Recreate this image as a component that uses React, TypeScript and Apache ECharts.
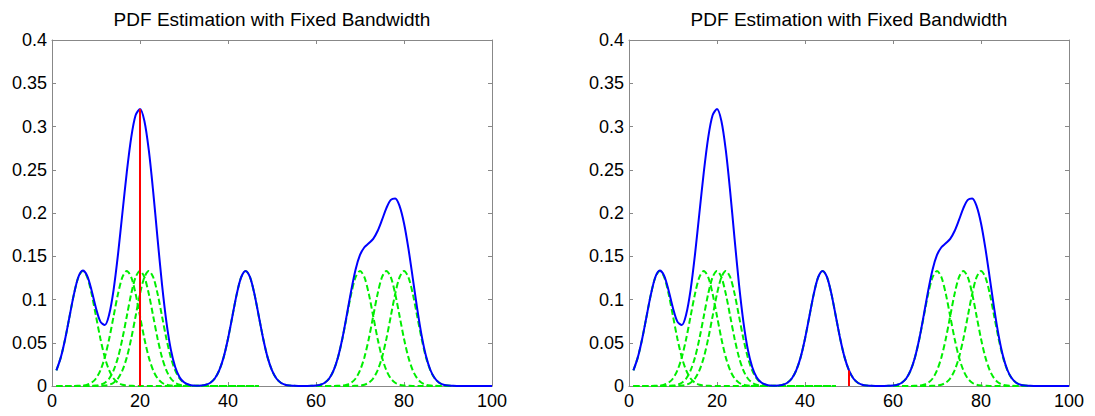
import React, { useEffect, useRef } from "react";
import * as echarts from "echarts";

// ---- data ----
const titleText = "PDF Estimation with Fixed Bandwidth";
const xStart = 1;
// blue estimated PDF, one value per x = 1..100
const pdfValues = [
  0.018, 0.0331, 0.0547, 0.0807, 0.1065, 0.126, 0.1335, 0.1273, 0.1105, 0.0899,
  0.0744, 0.0705, 0.0829, 0.1112, 0.1521, 0.2, 0.2473, 0.2872, 0.313, 0.3202,
  0.3063, 0.2726, 0.2245, 0.1699, 0.1176, 0.0742, 0.0423, 0.022, 0.0102, 0.0043,
  0.0017, 0.0005, 0.0004, 0.0005, 0.0015, 0.0038, 0.0087, 0.018, 0.0331, 0.0547,
  0.0807, 0.1065, 0.1258, 0.133, 0.1258, 0.1065, 0.0807, 0.0547, 0.0331, 0.018,
  0.0087, 0.0038, 0.0015, 0.0005, 0.0002, 0, 0, 0, 0.0002, 0.0005,
  0.0015, 0.0038, 0.0087, 0.018, 0.0333, 0.0552, 0.0822, 0.1103, 0.1347, 0.1515,
  0.1604, 0.165, 0.1701, 0.1792, 0.192, 0.2057, 0.2152, 0.2168, 0.208, 0.1882,
  0.1591, 0.1245, 0.0894, 0.0585, 0.0346, 0.0185, 0.0089, 0.0038, 0.0015, 0.0005,
  0.0002, 0, 0, 0, 0, 0, 0, 0, 0, 0,
];
// green kernel height by distance from its centre (0..12)
const kernelProfile = [0.133, 0.1258, 0.1065, 0.0807, 0.0547, 0.0331, 0.018, 0.0087, 0.0038, 0.0015, 0.0005, 0.0002, 0];
const sampleCenters = [7, 17, 20, 22, 44, 70, 76, 80];
const kernelSpans = [
  [1, 47], [1, 47], [1, 47], [1, 47], [32, 56], [58, 100], [58, 100], [58, 100],
];
const probeX = [20, 50];
const xMin = 0, xMax = 100, xInterval = 20;
const yMin = 0, yMax = 0.4, yInterval = 0.05;

const FONT = "'Liberation Sans', Arial, sans-serif";
const AXIS_GRAY = "#888888";
const gridLefts = [52, 629];
const GRID_TOP = 40;
const GRID_W = 440;
const GRID_H = 346;

function pdfAt(x: number): number {
  return pdfValues[x - xStart] ?? 0;
}

function kernelData(center: number, span: number[]): number[][] {
  const out: number[][] = [];
  for (let x = span[0]; x <= span[1]; x++) {
    const d = Math.min(Math.abs(x - center), kernelProfile.length - 1);
    out.push([x, kernelProfile[d]]);
  }
  return out;
}

function buildOption() {
  const grids: any[] = [];
  const xAxes: any[] = [];
  const yAxes: any[] = [];
  const series: any[] = [];
  const graphics: any[] = [];

  gridLefts.forEach((left, gi) => {
    grids.push({ left, top: GRID_TOP, width: GRID_W, height: GRID_H, show: false });
    const lineStyle = { color: AXIS_GRAY, width: 1 };
    const baseX = {
      gridIndex: gi, type: "value", min: xMin, max: xMax, interval: xInterval,
      axisLine: { show: true, onZero: false, lineStyle },
      axisTick: { show: true, inside: true, length: 4, lineStyle },
      splitLine: { show: false },
    };
    xAxes.push({
      ...baseX, position: "bottom",
      axisLabel: { show: true, color: "#000", fontSize: 18, fontFamily: FONT, margin: 6 },
    });
    xAxes.push({ ...baseX, position: "top", axisLabel: { show: false } });
    const baseY = {
      gridIndex: gi, type: "value", min: yMin, max: yMax, interval: yInterval,
      axisLine: { show: true, onZero: false, lineStyle },
      axisTick: { show: true, inside: true, length: 4, lineStyle },
      splitLine: { show: false },
    };
    yAxes.push({
      ...baseY, position: "left",
      axisLabel: { show: true, color: "#000", fontSize: 18, fontFamily: FONT, margin: 5 },
    });
    yAxes.push({ ...baseY, position: "right", axisLabel: { show: false } });

    const xi = gi * 2;
    const yi = gi * 2;
    sampleCenters.forEach((c, k) => {
      series.push({
        type: "line", xAxisIndex: xi, yAxisIndex: yi, symbol: "none", silent: true,
        smooth: 0.3,
        data: kernelData(c, kernelSpans[k]),
        lineStyle: { color: "#00ee00", width: 2, type: [6, 3] },
      });
    });
    series.push({
      type: "line", xAxisIndex: xi, yAxisIndex: yi, symbol: "none", silent: true,
      smooth: 0.3,
      data: pdfValues.map((v, i) => [xStart + i, v]),
      lineStyle: { color: "#0000ff", width: 2 },
    });
    const px = probeX[gi];
    series.push({
      type: "line", xAxisIndex: xi, yAxisIndex: yi, symbol: "none", silent: true,
      data: [[px, 0], [px, pdfAt(px)]],
      lineStyle: { color: "#ff0000", width: 2 },
    });

    graphics.push({
      type: "text",
      x: left + GRID_W / 2,
      y: 19,
      style: {
        text: titleText,
        fontSize: 19,
        fontFamily: FONT,
        fill: "#000",
        align: "center",
        textAlign: "center",
        verticalAlign: "middle",
        textVerticalAlign: "middle",
      },
    });
  });

  return {
    animation: false,
    backgroundColor: "#ffffff",
    grid: grids,
    xAxis: xAxes,
    yAxis: yAxes,
    series,
    graphic: graphics,
  };
}

export default function App() {
  const ref = useRef<HTMLDivElement>(null);
  useEffect(() => {
    if (!ref.current) return;
    const chart = echarts.init(ref.current, undefined, { renderer: "svg" });
    chart.setOption(buildOption() as any);
    return () => chart.dispose();
  }, []);
  return (
    <div
      ref={ref}
      style={{ position: "fixed", left: 0, top: 0, width: 1095, height: 416, background: "#fff" }}
    />
  );
}
